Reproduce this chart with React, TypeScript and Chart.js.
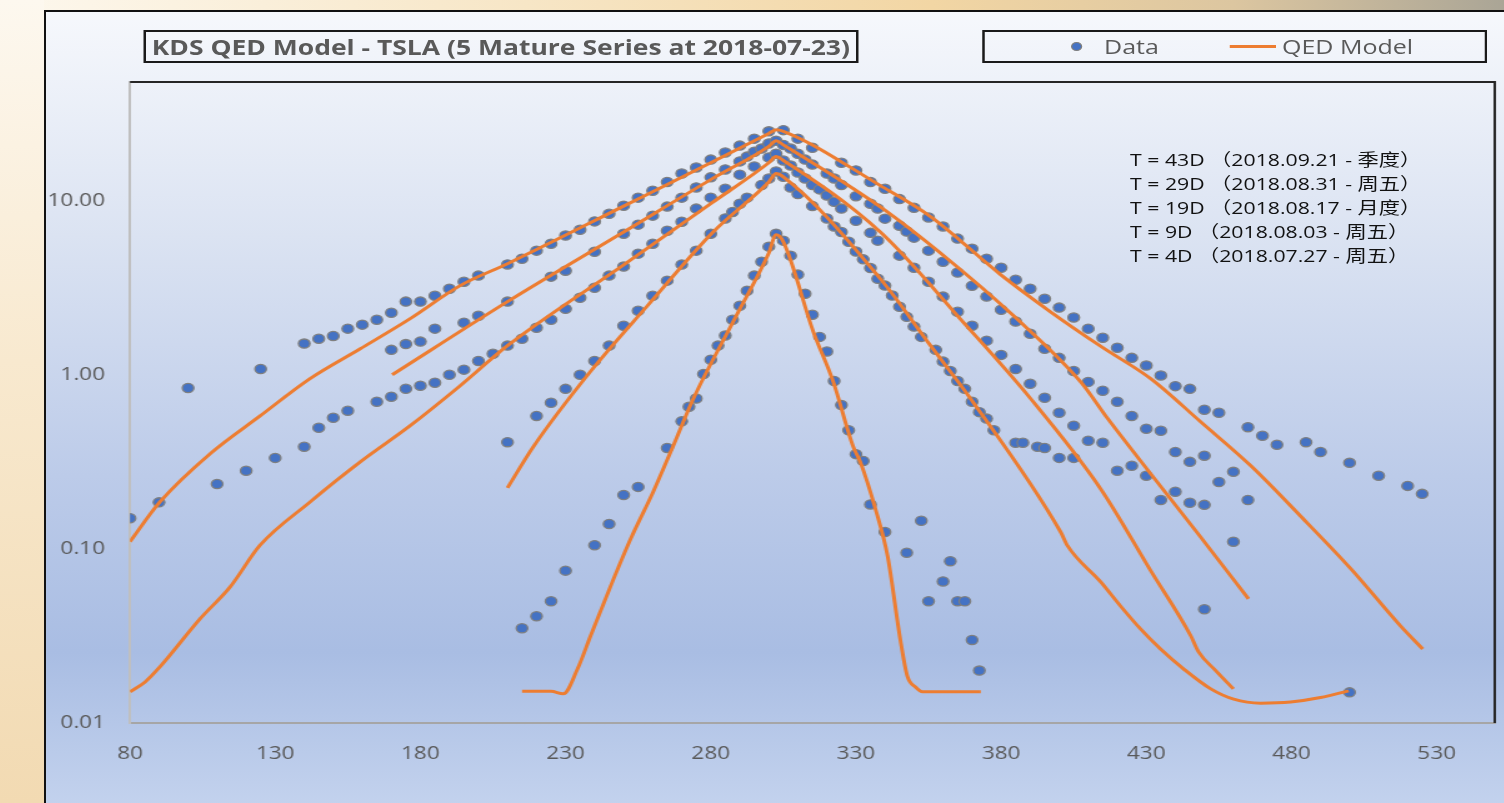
import React, { useEffect, useRef } from "react";
import { Chart, registerables } from "chart.js";

Chart.register(...registerables);

const FONT = '"Open Sans", "Noto Sans CJK SC", sans-serif';

const titleText = "KDS QED Model - TSLA (5 Mature Series at 2018-07-23)";
const legendLabels = ["Data", "QED Model"];
const noteLines = [
  "T = 43D （2018.09.21 - 季度）",
  "T = 29D （2018.08.31 - 周五）",
  "T = 19D （2018.08.17 - 月度）",
  "T = 9D （2018.08.03 - 周五）",
  "T = 4D （2018.07.27 - 周五）",
];

const xTickValues = [80, 130, 180, 230, 280, 330, 380, 430, 480, 530];
const yTickValues = [0.01, 0.1, 1, 10];

// ---- Market data (option prices by strike) ----
const strikes43 = [80, 90, 100, 125, 140, 145, 150, 155, 160, 165, 170, 175, 180, 185, 190, 195, 200, 210, 215, 220, 225, 230, 235, 240, 245, 250, 255, 260, 265, 270, 275, 280, 285, 290, 295, 300, 305, 310, 315, 325, 330, 335, 340, 345, 350, 355, 360, 365, 370, 375, 380, 385, 390, 395, 400, 405, 410, 415, 420, 425, 430, 435, 440, 445, 450, 455, 465, 470, 475, 485, 490, 500, 510, 520, 525];
const prices43 = [0.15, 0.185, 0.84, 1.08, 1.51, 1.61, 1.67, 1.84, 1.94, 2.07, 2.27, 2.63, 2.63, 2.84, 3.12, 3.42, 3.71, 4.3, 4.64, 5.16, 5.65, 6.3, 6.8, 7.6, 8.4, 9.35, 10.4, 11.4, 12.8, 14.3, 15.5, 17.2, 18.9, 20.7, 22.7, 25.0, 25.4, 22.7, 20.1, 16.5, 14.9, 12.8, 11.7, 10.2, 9.1, 8.0, 7.1, 6.05, 5.3, 4.64, 4.12, 3.51, 3.12, 2.73, 2.43, 2.13, 1.84, 1.63, 1.43, 1.25, 1.13, 0.99, 0.86, 0.83, 0.63, 0.605, 0.5, 0.446, 0.396, 0.41, 0.36, 0.312, 0.263, 0.23, 0.207];

const strikes29 = [170, 175, 180, 185, 195, 200, 210, 225, 230, 240, 250, 255, 260, 265, 270, 275, 280, 285, 290, 292.5, 295, 297.5, 300, 302.5, 305, 307.5, 310, 312.5, 315, 320, 322.5, 325, 330, 335, 337.5, 340, 345, 347.5, 350, 355, 360, 365, 370, 375, 380, 385, 390, 395, 400, 405, 410, 415, 420, 425, 430, 435, 440, 445, 450, 455, 460, 465];
const prices29 = [1.39, 1.5, 1.55, 1.84, 1.99, 2.18, 2.63, 3.66, 3.96, 5.09, 6.46, 7.28, 8.2, 9.24, 10.4, 11.9, 13.6, 15.1, 16.8, 17.9, 19.1, 19.9, 21.3, 22.1, 20.9, 19.9, 18.6, 17.2, 16.1, 14.3, 13.4, 12.3, 10.6, 9.6, 9.0, 7.88, 7.18, 6.64, 6.13, 5.16, 4.46, 3.86, 3.24, 2.81, 2.36, 2.02, 1.72, 1.41, 1.25, 1.05, 0.91, 0.81, 0.7, 0.58, 0.49, 0.477, 0.36, 0.316, 0.343, 0.242, 0.277, 0.191];

const strikes19 = [110, 120, 130, 140, 145, 150, 155, 165, 170, 175, 180, 185, 190, 195, 200, 205, 210, 215, 220, 225, 230, 235, 240, 245, 250, 255, 260, 265, 270, 275, 280, 285, 290, 295, 300, 302.5, 305, 307.5, 310, 312.5, 315, 317.5, 320, 322.5, 325, 330, 335, 337.5, 345, 350, 355, 360, 365, 370, 375, 380, 385, 390, 395, 400, 405, 410, 415, 420, 425, 430, 435, 440, 445, 450, 460];
const prices19 = [0.236, 0.281, 0.333, 0.386, 0.496, 0.566, 0.621, 0.7, 0.748, 0.831, 0.865, 0.9, 1.0, 1.07, 1.2, 1.32, 1.47, 1.61, 1.86, 2.07, 2.39, 2.77, 3.16, 3.71, 4.18, 4.96, 5.66, 6.72, 7.57, 9.0, 10.4, 11.7, 14.1, 15.7, 17.7, 18.6, 17.0, 15.9, 14.5, 13.4, 12.3, 11.6, 10.7, 9.85, 9.0, 7.66, 6.53, 5.89, 4.83, 4.12, 3.42, 2.81, 2.3, 1.91, 1.57, 1.3, 1.08, 0.888, 0.738, 0.605, 0.51, 0.418, 0.407, 0.281, 0.3, 0.263, 0.191, 0.213, 0.184, 0.179, 0.11];

const strikes9 = [210, 220, 225, 230, 235, 240, 245, 250, 255, 260, 265, 270, 275, 280, 285, 287.5, 290, 292.5, 297.5, 300, 302.5, 305, 307.5, 310, 315, 320, 322.5, 325, 327.5, 330, 332.5, 335, 337.5, 340, 342.5, 345, 347.5, 350, 352.5, 357.5, 360, 362.5, 365, 367.5, 370, 372.5, 375, 377.5, 385, 387.5, 392.5, 395, 400, 405, 450, 500];
const prices9 = [0.41, 0.58, 0.69, 0.83, 1.0, 1.2, 1.47, 1.91, 2.33, 2.84, 3.47, 4.29, 5.16, 6.46, 7.9, 8.6, 9.6, 10.4, 12.3, 13.4, 14.7, 13.7, 11.9, 10.9, 9.3, 7.9, 7.1, 6.6, 5.8, 5.1, 4.6, 4.1, 3.56, 3.25, 2.85, 2.46, 2.15, 1.89, 1.65, 1.39, 1.19, 1.05, 0.92, 0.83, 0.7, 0.61, 0.56, 0.48, 0.407, 0.407, 0.386, 0.38, 0.333, 0.333, 0.045, 0.015];

const strikes4 = [215, 220, 225, 230, 240, 245, 250, 255, 265, 270, 272.5, 275, 277.5, 280, 282.5, 285, 287.5, 290, 292.5, 295, 297.5, 300, 302.5, 305, 307.5, 310, 312.5, 315, 317.5, 320, 322.5, 325, 327.5, 330, 332.5, 335, 340, 347.5, 352.5, 355, 360, 362.5, 365, 367.5, 370, 372.5];
const prices4 = [0.035, 0.041, 0.05, 0.075, 0.105, 0.139, 0.204, 0.227, 0.38, 0.54, 0.655, 0.73, 1.01, 1.22, 1.47, 1.68, 2.07, 2.49, 3.04, 3.71, 4.46, 5.44, 6.46, 5.89, 4.83, 3.76, 2.92, 2.21, 1.65, 1.36, 0.92, 0.67, 0.48, 0.35, 0.32, 0.18, 0.125, 0.095, 0.145, 0.05, 0.065, 0.085, 0.05, 0.05, 0.03, 0.02];

// ---- QED model curves ----
const model43X = [80, 90.3, 107.6, 124.8, 142, 159.3, 176.5, 193.7, 210, 250, 280, 300, 302.5, 305, 338.4, 355.7, 379.8, 397, 414.5, 431.5, 448.7, 466, 483, 500.4, 517.6, 525.2];
const model43Y = [0.11, 0.186, 0.352, 0.58, 0.95, 1.41, 2.1, 3.25, 4.34, 9.3, 16.5, 24.3, 25.5, 25.0, 12.2, 8.1, 3.76, 2.3, 1.45, 0.95, 0.537, 0.3, 0.155, 0.077, 0.036, 0.0266];

const model29X = [170.3, 210, 250, 280, 300, 302.5, 305, 338.4, 361.5, 384.3, 407.4, 416.7, 431.5, 448.7, 465.2];
const model29Y = [1.0, 2.63, 6.6, 13.2, 20.5, 22.1, 20.9, 9.2, 4.64, 2.18, 0.91, 0.56, 0.27, 0.117, 0.0516];

const model19X = [80, 85.2, 90.3, 104.1, 114.5, 124.8, 142, 159.3, 176.5, 193.7, 210, 250, 280, 300, 302.5, 305, 338.4, 367, 390.2, 414.3, 431.5, 445.3, 448, 453.9, 460];
const model19Y = [0.0151, 0.0172, 0.021, 0.0396, 0.0605, 0.105, 0.186, 0.316, 0.51, 0.865, 1.47, 4.28, 9.6, 16.5, 17.9, 17.0, 6.6, 2.0, 0.728, 0.221, 0.075, 0.0317, 0.0256, 0.02, 0.0157];

const model9X = [210, 218.9, 238.5, 258.2, 280.9, 300, 302.5, 305, 338.4, 355.7, 369.5, 400.5, 402.9, 414.3, 421.1, 428, 434.9, 442.9, 452.2, 460.1, 469.4, 479.7, 490, 499.7];
const model9Y = [0.224, 0.386, 1.04, 2.49, 6.63, 12.8, 14.3, 13.7, 3.56, 1.47, 0.728, 0.125, 0.104, 0.0646, 0.047, 0.0347, 0.0266, 0.0204, 0.0157, 0.0137, 0.013, 0.0132, 0.014, 0.0153];

const model4X = [215, 225, 229.2, 234.1, 238.6, 246.5, 252.4, 260.2, 267.1, 274, 288.6, 300, 302.5, 305, 315.3, 322.2, 329.1, 331.5, 336.7, 340.9, 345.3, 347.7, 350.5, 352.9, 373];
const model4Y = [0.0152, 0.0152, 0.0147, 0.0204, 0.0316, 0.067, 0.114, 0.213, 0.391, 0.728, 2.15, 5.0, 6.36, 5.8, 1.77, 0.91, 0.385, 0.316, 0.17, 0.091, 0.03, 0.0186, 0.0161, 0.0151, 0.0151];

const dataSets: [number[], number[]][] = [
  [strikes43, prices43],
  [strikes29, prices29],
  [strikes19, prices19],
  [strikes9, prices9],
  [strikes4, prices4],
];
const modelSets: [number[], number[]][] = [
  [model43X, model43Y],
  [model29X, model29Y],
  [model19X, model19Y],
  [model9X, model9Y],
  [model4X, model4Y],
];

const toPoints = (xs: number[], ys: number[]) => xs.map((x, i) => ({ x, y: ys[i] }));

// page geometry (inner area is stretched horizontally by 1.25)
const STRETCH = 1.25;
const CANVAS_W = 1167;
const CANVAS_H = 791;

const plotFrame = {
  id: "plotFrame",
  beforeDatasetsDraw(chart: any) {
    const { ctx, chartArea: a } = chart;
    ctx.save();
    ctx.strokeStyle = "#262626";
    ctx.lineWidth = 2;
    ctx.beginPath();
    ctx.moveTo(a.left, a.top);
    ctx.lineTo(a.right, a.top);
    ctx.lineTo(a.right, a.bottom);
    ctx.stroke();
    ctx.restore();
  },
};

function QedChart() {
  const ref = useRef<HTMLCanvasElement | null>(null);
  useEffect(() => {
    if (!ref.current) return;
    const datasets: any[] = [];
    modelSets.forEach(([xs, ys]) => {
      datasets.push({
        type: "scatter",
        label: legendLabels[1],
        data: toPoints(xs, ys),
        showLine: true,
        borderColor: "#ed7d31",
        backgroundColor: "#ed7d31",
        borderWidth: 3,
        pointRadius: 0,
        cubicInterpolationMode: "monotone",
        order: 0,
      });
    });
    dataSets.forEach(([xs, ys]) => {
      datasets.push({
        type: "scatter",
        label: legendLabels[0],
        data: toPoints(xs, ys),
        showLine: false,
        pointRadius: 4.6,
        pointBackgroundColor: "#4472c4",
        pointBorderColor: "#7f7f7f",
        pointBorderWidth: 1.3,
        order: 1,
      });
    });
    const chart = new Chart(ref.current, {
      type: "scatter",
      data: { datasets },
      options: {
        animation: false,
        responsive: false,
        devicePixelRatio: 1,
        events: [],
        layout: { padding: { top: 70, right: 8, left: 0, bottom: 0 } },
        plugins: {
          legend: { display: false },
          title: { display: false },
          tooltip: { enabled: false },
        },
        scales: {
          x: {
            type: "linear",
            min: 80,
            max: 550,
            afterFit: (s: any) => {
              s.height = 80;
            },
            afterBuildTicks: (s: any) => {
              s.ticks = xTickValues.map((v) => ({ value: v }));
            },
            grid: { display: false, drawTicks: false },
            border: { display: true, color: "#a6a6a6", width: 2 },
            ticks: {
              autoSkip: false,
              maxRotation: 0,
              padding: 20,
              color: "#595959",
              font: { family: FONT, size: 18 },
              callback: (v: any) => String(v),
            },
          },
          y: {
            type: "logarithmic",
            min: 0.01,
            max: 48,
            afterFit: (s: any) => {
              s.width = 67.2;
            },
            afterBuildTicks: (s: any) => {
              s.ticks = yTickValues.map((v) => ({ value: v }));
            },
            grid: { display: false, drawTicks: false },
            border: { display: true, color: "#bfbfbf", width: 2 },
            ticks: {
              autoSkip: false,
              padding: 20,
              color: "#595959",
              font: { family: FONT, size: 18 },
              callback: (v: any) => Number(v).toFixed(2),
            },
          },
        },
      },
      plugins: [plotFrame],
    });
    return () => chart.destroy();
  }, []);
  return <canvas ref={ref} width={CANVAS_W} height={CANVAS_H} style={{ position: "absolute", left: 0, top: 0 }} />;
}

export default function App() {
  return (
    <div
      style={{
        position: "fixed",
        inset: 0,
        overflow: "hidden",
        background:
          "linear-gradient(to right, #fdf8ee 0%, #f7e6c6 35%, #f2d6a4 62%, #dcc6a0 82%, #aaa596 100%)",
      }}
    >
      <div
        style={{
          position: "absolute",
          left: 0,
          top: 0,
          width: 44,
          height: "100%",
          background: "linear-gradient(to bottom, #fdf8ef 0%, #f8e9cf 45%, #f2dab2 100%)",
        }}
      />
      <div
        style={{
          position: "absolute",
          left: 44,
          top: 10,
          width: 1470,
          height: 800,
          borderLeft: "2px solid #111",
          borderTop: "2px solid #111",
          overflow: "hidden",
          background:
            "linear-gradient(to bottom, #f6f8fc 0%, #dbe3f2 28%, #bccbe9 58%, #a9bde3 80%, #c4d3ee 100%)",
        }}
      >
        <div
          style={{
            position: "absolute",
            left: 0,
            top: 0,
            width: CANVAS_W,
            height: CANVAS_H,
            transform: `scaleX(${STRETCH})`,
            transformOrigin: "0 0",
            fontFamily: FONT,
          }}
        >
          <QedChart />
          <div
            style={{
              position: "absolute",
              left: 77.6,
              top: 18,
              width: 572,
              height: 33,
              boxSizing: "border-box",
              border: "2px solid #1a1a1a",
              paddingLeft: 5,
              display: "flex",
              alignItems: "center",
              fontWeight: 700,
              fontSize: 21.2,
              color: "#595959",
              whiteSpace: "nowrap",
            }}
          >
            {titleText}
          </div>
          <div
            style={{
              position: "absolute",
              left: 748.8,
              top: 18,
              width: 404,
              height: 33,
              boxSizing: "border-box",
              border: "2px solid #1a1a1a",
              fontSize: 20,
              color: "#595959",
              whiteSpace: "nowrap",
            }}
          >
            <div
              style={{
                position: "absolute",
                left: 69.5,
                top: 9.5,
                width: 9,
                height: 9,
                borderRadius: "50%",
                background: "#4472c4",
                boxSizing: "border-box",
                border: "1px solid #7f7f7f",
              }}
            />
            <div style={{ position: "absolute", left: 95.6, top: 0, lineHeight: "29px" }}>{legendLabels[0]}</div>
            <div
              style={{
                position: "absolute",
                left: 196.4,
                top: 12.5,
                width: 36.8,
                height: 3,
                background: "#ed7d31",
              }}
            />
            <div style={{ position: "absolute", left: 238, top: 0, lineHeight: "29px" }}>{legendLabels[1]}</div>
          </div>
          <div
            style={{
              position: "absolute",
              left: 867.2,
              top: 136,
              fontSize: 17,
              lineHeight: "24px",
              color: "#111111",
              whiteSpace: "pre",
            }}
          >
            {noteLines.map((t) => (
              <div key={t}>{t}</div>
            ))}
          </div>
        </div>
      </div>
    </div>
  );
}
